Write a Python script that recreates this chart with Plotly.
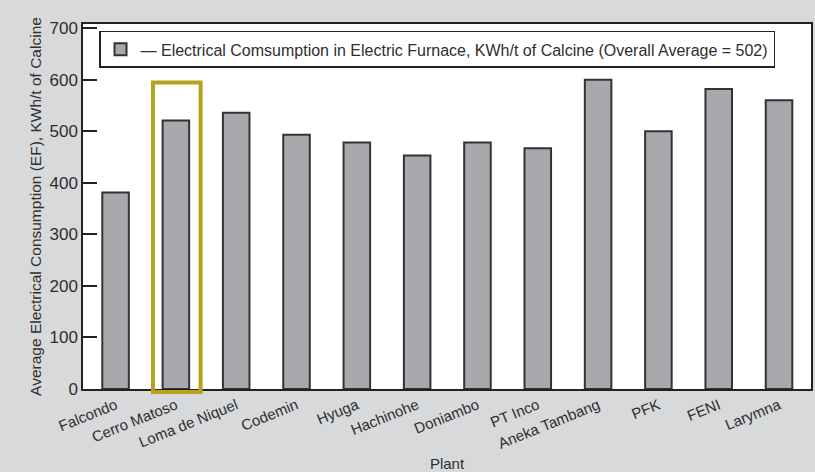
import plotly.graph_objects as go

plants = ["Falcondo", "Cerro Matoso", "Loma de Niquel", "Codemin", "Hyuga", "Hachinohe",
          "Doniambo", "PT Inco", "Aneka Tambang", "PFK", "FENI", "Larymna"]
consumption = [381, 521, 536, 493, 478, 453, 478, 467, 600, 500, 582, 560]
series_name = "— Electrical Comsumption in Electric Furnace, KWh/t of Calcine (Overall Average = 502)"
y_ticks = [0, 100, 200, 300, 400, 500, 600, 700]
highlight = "Cerro Matoso"

FONT = "Liberation Sans Narrow, Liberation Sans, Arial, sans-serif"

fig = go.Figure()
fig.add_trace(go.Bar(
    x=plants, y=consumption, name=series_name, showlegend=True,
    width=0.44,
    marker=dict(color="#a8a9ac", line=dict(color="#333333", width=2)),
))

hi = plants.index(highlight)
fig.add_shape(type="rect", xref="x", yref="paper",
              x0=hi - 0.38, x1=hi + 0.41, y0=-0.008, y1=0.84,
              line=dict(color="#b3a41c", width=4), fillcolor="rgba(0,0,0,0)")

fig.update_layout(
    width=815, height=472,
    margin=dict(l=83, r=2, t=24, b=82),
    paper_bgcolor="#d8d9db", plot_bgcolor="white",
    font=dict(family=FONT, color="#2e2e2e", size=15),
    bargap=0.56,
    legend=dict(x=0.022, y=0.981, xanchor="left", yanchor="top",
                bgcolor="white", bordercolor="#222222", borderwidth=1.5,
                font=dict(size=16, family=FONT, color="#2e2e2e")),
    xaxis=dict(range=[-0.54, 11.53], showline=True, linecolor="#222222", linewidth=2,
               mirror=True, ticks="", tickangle=-22,
               tickfont=dict(size=15),
               title=dict(text="Plant", font=dict(size=15), standoff=8)),
    yaxis=dict(range=[0, 708], tickvals=y_ticks, showline=True, linecolor="#222222",
               linewidth=1.5, mirror=True, ticks="inside", ticklen=14, tickwidth=2,
               tickcolor="#222222", showgrid=False, zeroline=False,
               tickfont=dict(size=17),
               title=dict(text="Average Electrical Consumption (EF), KWh/t of Calcine",
                          font=dict(size=15.5), standoff=4)),
)

fig.write_html("out.html")
